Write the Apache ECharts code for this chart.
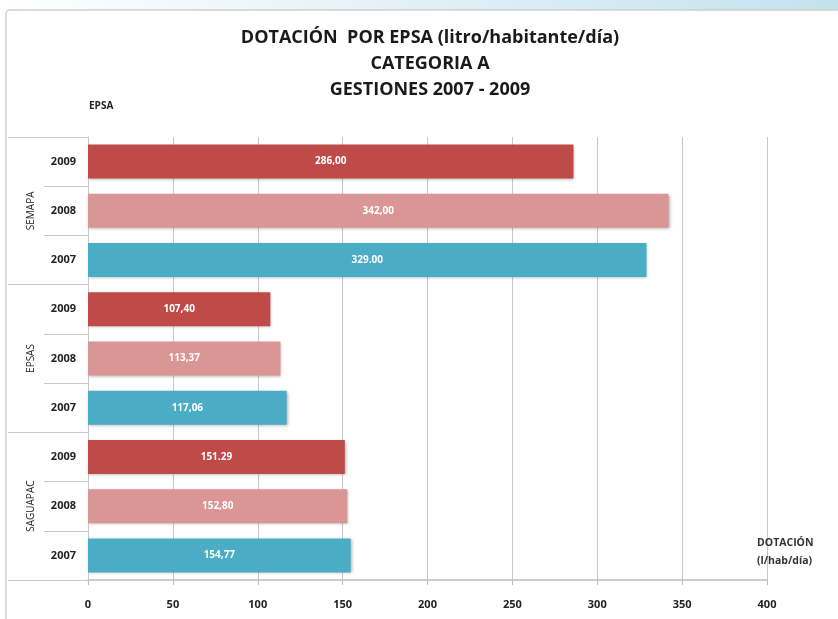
<!DOCTYPE html>
<html>
<head>
<meta charset="utf-8">
<script src="https://cdn.jsdelivr.net/npm/echarts@6/dist/echarts.min.js"></script>
<style>
 html, body { margin: 0; padding: 0; }
 #chart1 { width: 838px; height: 619px; }
</style>
</head>
<body>
<div id="chart1"></div>
<script>
// grupos (EPSA) y gestiones, de arriba hacia abajo
var epsas = ['SEMAPA', 'EPSAS', 'SAGUAPAC'];
var years = ['2009', '2008', '2007'];
var values2009 = [286.00, 107.40, 151.29];
var values2008 = [342.00, 113.37, 152.80];
var values2007 = [329.00, 117.06, 154.77];
// textos de las etiquetas tal como aparecen
var labels2009 = ['286,00', '107,40', '151.29'];
var labels2008 = ['342,00', '113,37', '152,80'];
var labels2007 = ['329.00', '117,06', '154,77'];
var xTicks = [0, 50, 100, 150, 200, 250, 300, 350, 400];

var colors = { '2009': '#be4b48', '2008': '#d99694', '2007': '#4bacc6' };
var font = '"Open Sans", sans-serif';

var dom = document.getElementById("chart1");
var myChart = echarts.init(dom);

var yearCats = [];
var barData = [];
var byYear = {
 '2009': [values2009, labels2009],
 '2008': [values2008, labels2008],
 '2007': [values2007, labels2007]
};
for (var i = 0; i < epsas.length; i++) {
 for (var j = 0; j < years.length; j++) {
	 var y = years[j];
	 yearCats.push(y);
	 barData.push({
		 value: byYear[y][0][i],
		 itemStyle: { color: colors[y] },
		 label: { formatter: byYear[y][1][i] }
	 });
 }
}

var option = {
 backgroundColor: new echarts.graphic.LinearGradient(0, 0, 1, 0, [
	 { offset: 0, color: '#ffffff' },
	 { offset: 1, color: '#c4e2ec' }
 ]),
 graphic: [
	 {
		 type: 'rect',
		 z: -10,
		 shape: { x: 6, y: 10, width: 860, height: 640, r: 4 },
		 style: { fill: '#ffffff', stroke: '#cfcfcf', lineWidth: 1.5 }
	 }
 ],
 title: [
	 {
		 text: 'DOTACIÓN  POR EPSA (litro/habitante/día)\nCATEGORIA A\nGESTIONES 2007 - 2009',
		 left: 425,
		 top: 20,
		 textAlign: 'center',
		 textStyle: {
			 fontFamily: font,
			 fontSize: 18,
			 fontWeight: 'bold',
			 color: '#1a1a1a',
			 lineHeight: 26
		 }
	 },
	 {
		 text: 'EPSA',
		 left: 84,
		 top: 96,
		 textStyle: { fontFamily: font, fontSize: 10, fontWeight: 'bold', color: '#222' }
	 }
 ],
 grid: {
	 left: 88,
	 right: 71,
	 top: 137,
	 bottom: 39,
	 containLabel: false
 },
 xAxis: {
	 type: 'value',
	 min: 0,
	 max: 400,
	 interval: 50,
	 name: 'DOTACIÓN\n(l/hab/día)',
	 nameLocation: 'end',
	 nameGap: -10,
	 nameTextStyle: {
		 fontFamily: font,
		 fontSize: 10.5,
		 fontWeight: 'bold',
		 color: '#333',
		 align: 'left',
		 verticalAlign: 'bottom',
		 lineHeight: 18,
		 padding: [0, 0, 10, 0]
	 },
	 axisLine: { show: true, lineStyle: { color: '#bdbdbd', width: 1.5 } },
	 axisTick: { show: true, length: 5, lineStyle: { color: '#bdbdbd' } },
	 axisLabel: {
		 margin: 19,
		 fontFamily: font,
		 fontSize: 11,
		 fontWeight: 'bold',
		 color: '#222',
		 formatter: function (v) { return xTicks.indexOf(v) >= 0 ? String(v) : ''; }
	 },
	 splitLine: { show: true, lineStyle: { color: '#c8c8c8', width: 1 } }
 },
 yAxis: [
	 {
		 type: 'category',
		 data: yearCats,
		 inverse: true,
		 position: 'left',
		 axisLine: { show: true, lineStyle: { color: '#c8c8c8' } },
		 axisTick: { show: true, length: 44, interval: 0, lineStyle: { color: '#c8c8c8' } },
		 axisLabel: {
			 margin: 12,
			 fontFamily: font,
			 fontSize: 11,
			 fontWeight: 'bold',
			 color: '#222'
		 }
	 },
	 {
		 type: 'category',
		 data: epsas,
		 inverse: true,
		 position: 'left',
		 offset: 0,
		 axisLine: { show: false },
		 axisTick: { show: true, length: 80, interval: 0, lineStyle: { color: '#c8c8c8' } },
		 axisLabel: {
			 rotate: 90,
			 margin: 52,
			 fontFamily: font,
			 fontSize: 10,
			 color: '#222'
		 }
	 }
 ],
 series: [
	 {
		 type: 'bar',
		 yAxisIndex: 0,
		 barWidth: 34,
		 data: barData,
		 itemStyle: {
			 shadowBlur: 3,
			 shadowColor: 'rgba(0,0,0,0.3)',
			 shadowOffsetX: 1,
			 shadowOffsetY: 1
		 },
		 label: {
			 show: true,
			 position: 'inside',
			 fontFamily: font,
			 fontSize: 10,
			 fontWeight: 'bold',
			 color: '#ffffff'
		 }
	 }
 ]
};

myChart.setOption(option);
</script>
</body>
</html>
